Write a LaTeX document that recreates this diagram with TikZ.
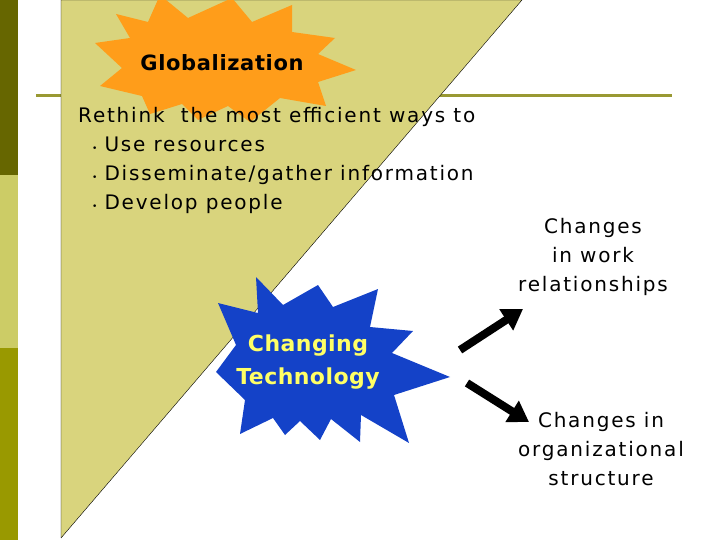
\documentclass[tikz,border=0pt]{standalone}
\usepackage{fontspec}
\setmainfont{DejaVu Sans}
\usetikzlibrary{arrows.meta}
\definecolor{olivedark}{HTML}{666600}
\definecolor{olivelight}{HTML}{CCCC66}
\definecolor{olivemid}{HTML}{999900}
\definecolor{rulecol}{HTML}{999933}
\definecolor{khaki}{HTML}{D9D47D}
\definecolor{burstorange}{HTML}{FF9D1A}
\definecolor{burstblue}{HTML}{1442C8}
\definecolor{techyellow}{HTML}{FFFF66}

\begin{document}
\begin{tikzpicture}[x=1pt,y=-1pt,font=\fontsize{20}{29}\selectfont\addfontfeature{LetterSpace=9}, line join=round, line cap=butt,
	blockarrow/.style={line width=8pt,-{Triangle[length=20pt,width=24pt]}},
	txt/.style={align=center,inner sep=0pt}]
		\useasboundingbox (0,0) rectangle (720,540);
		\fill[olivedark] (0,0) rectangle (18,175);
		\fill[olivelight] (0,175) rectangle (18,348);
		\fill[olivemid] (0,348) rectangle (18,540);
		\draw[rulecol, line width=3pt] (36,96)--(672,96);
		\draw[fill=khaki] (61,0)--(522,0)--(61,538)--cycle;
		% orange burst
		\fill[burstorange] (160,-5)--(188,18)--(232,-2)--(252,22)--(292,5)--(292,32)--(335,38)--(318,54)--(356,70)
			--(318,82)--(326,106)--(280,98)--(250,122)--(228,106)--(198,120)--(182,104)--(150,114)--(142,96)
			--(100,86)--(122,68)--(95,43)--(130,38)--(116,14)--(148,22)--cycle;
		\node[txt, font=\fontsize{21}{24}\bfseries\selectfont\addfontfeature{LetterSpace=3}] (glob) at (222,63) {Globalization};
		\node[anchor=north west, align=left, inner sep=0pt] (rethink) at (78,107) {Rethink\ \ the most efficient ways to\\
			\hspace*{14pt}{\small\textbullet}\hspace{7pt}Use resources\\
			\hspace*{14pt}{\small\textbullet}\hspace{7pt}Disseminate/gather information\\
			\hspace*{14pt}{\small\textbullet}\hspace{7pt}Develop people};
		% blue burst
		\fill[burstblue] (258,313)--(256,277)--(283,305)--(318,285)--(333,307)--(378,289)--(370,327)--(413,331)
			--(392,353)--(450,377)--(394,395)--(409,443)--(361,415)--(360,442)--(331,419)--(320,440)
			--(300,421)--(285,435)--(273,418)--(240,434)--(245,400)--(216,372)--(236,345)--(218,303)--cycle;
		\node[txt, text=techyellow, font=\fontsize{22}{33}\bfseries\selectfont\addfontfeature{LetterSpace=2}] (tech) at (308,362) {Changing\\Technology};
		\node[txt] (rel) at (593,257) {Changes\\in work\\relationships};
		\node[txt] (org) at (601,449) {Changes in\\organizational\\structure};
		\coordinate (upfrom) at (460,350);
		\coordinate (upto) at (523,309);
		\coordinate (downfrom) at (467,383);
		\coordinate (downto) at (529,422);
		\draw[blockarrow] (upfrom)--(upto);
		\draw[blockarrow] (downfrom)--(downto);
\end{tikzpicture}
\end{document}
